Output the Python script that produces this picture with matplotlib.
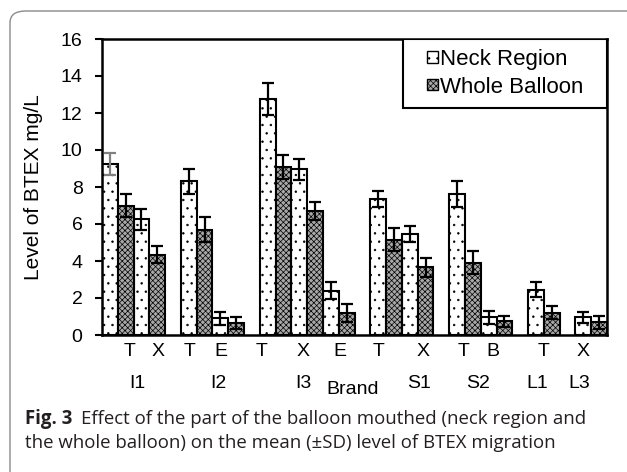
import matplotlib
matplotlib.use("Agg")
import matplotlib.pyplot as plt
from matplotlib.patches import FancyBboxPatch, Patch, Rectangle
from matplotlib.legend_handler import HandlerPatch
from matplotlib.transforms import blended_transform_factory

# data
brands = ["I1", "I2", "I3", "S1", "S2", "L1", "L3"]
compounds = [["T", "X"], ["T", "E"], ["T", "X", "E"], ["T", "X"], ["T", "B"], ["T"], ["X"]]
neck = [9.25, 6.25, 8.3, 0.9, 12.75, 8.95, 2.4, 7.35, 5.45, 7.6, 0.95, 2.45, 0.95]
neck_sd = [0.6, 0.55, 0.7, 0.35, 0.85, 0.55, 0.45, 0.42, 0.42, 0.7, 0.35, 0.4, 0.3]
whole = [7.0, 4.35, 5.7, 0.65, 9.1, 6.7, 1.2, 5.15, 3.65, 3.9, 0.75, 1.2, 0.7]
whole_sd = [0.62, 0.45, 0.68, 0.3, 0.65, 0.5, 0.5, 0.63, 0.5, 0.62, 0.3, 0.35, 0.35]

# label positions (in bar-slot units) as laid out in the original
comp_label_x = [1.73, 3.53, 5.54, 7.56, 10.1, 12.74, 15.1, 17.54, 20.36, 22.9, 24.8, 27.96, 30.46]
brand_label_x = [2.24, 7.38, 12.78, 20.08, 23.8, 27.57, 30.21]

plt.rcParams["font.family"] = ["Liberation Sans", "DejaVu Sans"]
plt.rcParams["hatch.linewidth"] = 0.5

fig = plt.figure(figsize=(6.27, 4.72), dpi=100)
ax = fig.add_axes([102 / 627, 1 - 335 / 472, 505 / 627, 296 / 472])

# slot positions: two bars per compound, one empty slot between brands
x_neck = []
pos = 0
for comps in compounds:
    for _ in comps:
        x_neck.append(pos + 0.5)
        pos += 2
    pos += 1
x_whole = [x + 1 for x in x_neck]

neck_style = dict(facecolor="white", edgecolor="black", hatch="..")
whole_style = dict(facecolor="#a8a8a8", edgecolor="black", hatch="xxxxxx")
ax.bar(x_neck, neck, width=1, linewidth=1.5, zorder=2, **neck_style)
ax.bar(x_whole, whole, width=1, linewidth=1.5, zorder=2, **whole_style)

ekw = dict(fmt="none", elinewidth=1.6, capsize=4.5, capthick=1.6, zorder=3)
ax.errorbar(x_neck[1:], neck[1:], yerr=neck_sd[1:], ecolor="black", **ekw)
ax.errorbar(x_neck[:1], neck[:1], yerr=neck_sd[:1], ecolor="#808080", **ekw)
ax.errorbar(x_whole, whole, yerr=whole_sd, ecolor="black", **ekw)

ax.set_xlim(0, pos - 1)
ax.set_ylim(0, 16)
ax.set_yticks(range(0, 17, 2))
ax.set_xticks([])
ax.tick_params(axis="y", direction="out", length=5, width=1.5, labelsize=14, pad=9)
for s in ax.spines.values():
    s.set_linewidth(1.8)
ax.set_ylabel("Level of BTEX mg/L", fontsize=15)
ax.yaxis.set_label_coords(-0.117, 0.5)

labels_flat = [c for comps in compounds for c in comps]
tr = blended_transform_factory(ax.transData, fig.transFigure)
for x, lab in zip(comp_label_x, labels_flat):
    ax.text(x, 1 - 351 / 472, lab, transform=tr, ha="center", va="center", fontsize=14)
for x, lab in zip(brand_label_x, brands):
    ax.text(x, 1 - 383 / 472, lab, transform=tr, ha="center", va="center", fontsize=14)
ax.text(15.86, 1 - 390 / 472, "Brand", transform=tr, ha="center", va="center", fontsize=14)


# legend: small square swatch sitting right before the text
def square_swatch(legend, orig_handle, xdescent, ydescent, width, height, fontsize):
    s = height
    return Rectangle((-xdescent + width - s, -ydescent), s, s)


handles = [Patch(linewidth=1, **neck_style), Patch(linewidth=1, **whole_style)]
leg = ax.legend(handles, ["Neck Region", "Whole Balloon"], loc="upper left",
                bbox_to_anchor=((426 - 102) / 505, (335 - 49) / 296),
                fontsize=16, handlelength=0.55, handleheight=0.42, handletextpad=0.08,
                borderaxespad=0, borderpad=0, labelspacing=0.3, frameon=False,
                handler_map={Patch: HandlerPatch(patch_func=square_swatch)})
ax.add_patch(Rectangle(((403 - 102) / 505, (335 - 108) / 296), (607 - 403) / 505,
                       69 / 296, transform=ax.transAxes, facecolor="white",
                       edgecolor="black", linewidth=1.5, zorder=4))
leg.set_zorder(5)

# rounded figure border
fig.patches.append(FancyBboxPatch((10 / 627, -0.05), 1.1, 0.05 + 1 - 11 / 472,
                                  boxstyle="round,pad=0,rounding_size=0.025",
                                  transform=fig.transFigure, facecolor="none",
                                  edgecolor="#8a8a8a", linewidth=1.0))

# caption
cap_font = ["Open Sans", "DejaVu Sans"]
cap_size = 13.4
t1 = fig.text(25 / 627, 1 - 424 / 472, "Fig. 3", fontsize=cap_size, fontweight="bold",
              family=cap_font, color="#231f20", va="baseline")
fig.canvas.draw()
bb = t1.get_window_extent()
fig.text((bb.x1 + 9) / 627, 1 - 424 / 472,
         "Effect of the part of the balloon mouthed (neck region and",
         fontsize=cap_size, family=cap_font, color="#231f20", va="baseline")
fig.text(25 / 627, 1 - 448 / 472,
         "the whole balloon) on the mean (\u00b1SD) level of BTEX migration",
         fontsize=cap_size, family=cap_font, color="#231f20", va="baseline")

fig.savefig("out.png", dpi=100)
